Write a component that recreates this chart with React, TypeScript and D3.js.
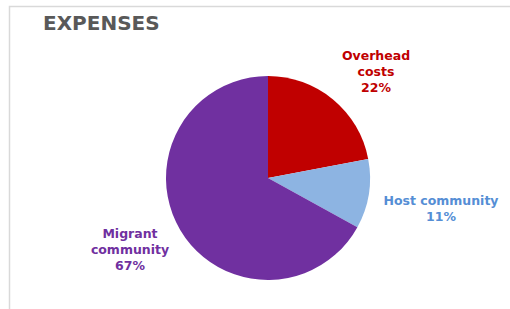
import { useEffect, useRef } from 'react';
import * as d3 from 'd3';

const categories = ['Overhead costs', 'Host community', 'Migrant community'];
const values = [22, 11, 67];
const labelLines = [['Overhead', 'costs', '22%'], ['Host community', '11%'], ['Migrant', 'community', '67%']];
const colors = ['#c00000', '#8db4e2', '#7030a0'];
const textColors = ['#c00000', '#558ed5', '#7030a0'];

// label anchor (middle line centre) relative to pie centre
const labelOffsets: [number, number][] = [[108, -107], [173, 30], [-138, 71]];

export default function App() {
  const svgRef = useRef<SVGSVGElement>(null);

  useEffect(() => {
    if (!svgRef.current) return;
    const W = 510, H = 309;
    const cx = 268, cy = 178, r = 102;

    const svg = d3.select(svgRef.current);
    svg.selectAll('*').remove();
    svg.attr('width', W).attr('height', H);

    svg.append('rect').attr('width', W).attr('height', H).attr('fill', '#fff');

    // chart frame
    svg.append('path')
      .attr('d', `M9.5,${H + 2}V6.5H${W + 2}`)
      .attr('fill', 'none')
      .attr('stroke', '#d9d9d9')
      .attr('stroke-width', 1.5);

    svg.append('text')
      .attr('x', 43)
      .attr('y', 29.5)
      .attr('font-family', '"DejaVu Sans", Verdana, sans-serif')
      .attr('font-weight', 'bold')
      .attr('font-size', '20px')
      .attr('fill', '#595959')
      .text('EXPENSES');

    const data = categories.map((c, i) => ({ name: c, value: values[i], i }));
    const pie = d3.pie<{ name: string; value: number; i: number }>()
      .value((d) => d.value)
      .sort(null);
    const arc = d3.arc<d3.PieArcDatum<{ name: string; value: number; i: number }>>()
      .innerRadius(0)
      .outerRadius(r);

    const g = svg.append('g').attr('transform', `translate(${cx},${cy})`);

    g.selectAll('path.slice')
      .data(pie(data))
      .join('path')
      .attr('class', 'slice')
      .attr('d', arc)
      .attr('fill', (d) => colors[d.data.i]);

    // labels
    data.forEach((d, i) => {
      const lines = labelLines[i];
      const [ox, oy] = labelOffsets[i];
      const lh = 16;
      const t = g.append('text')
        .attr('text-anchor', 'middle')
        .attr('font-family', '"DejaVu Sans", Verdana, sans-serif')
        .attr('font-weight', 'bold')
        .attr('font-size', '12.5px')
        .attr('fill', textColors[i]);
      const y0 = oy - ((lines.length - 1) * lh) / 2;
      lines.forEach((ln, k) => {
        t.append('tspan')
          .attr('x', ox)
          .attr('y', y0 + k * lh + 4.5)
          .text(ln);
      });
    });
  }, []);

  return <svg ref={svgRef} style={{ position: 'absolute', left: 0, top: 0, display: 'block' }} />;
}
